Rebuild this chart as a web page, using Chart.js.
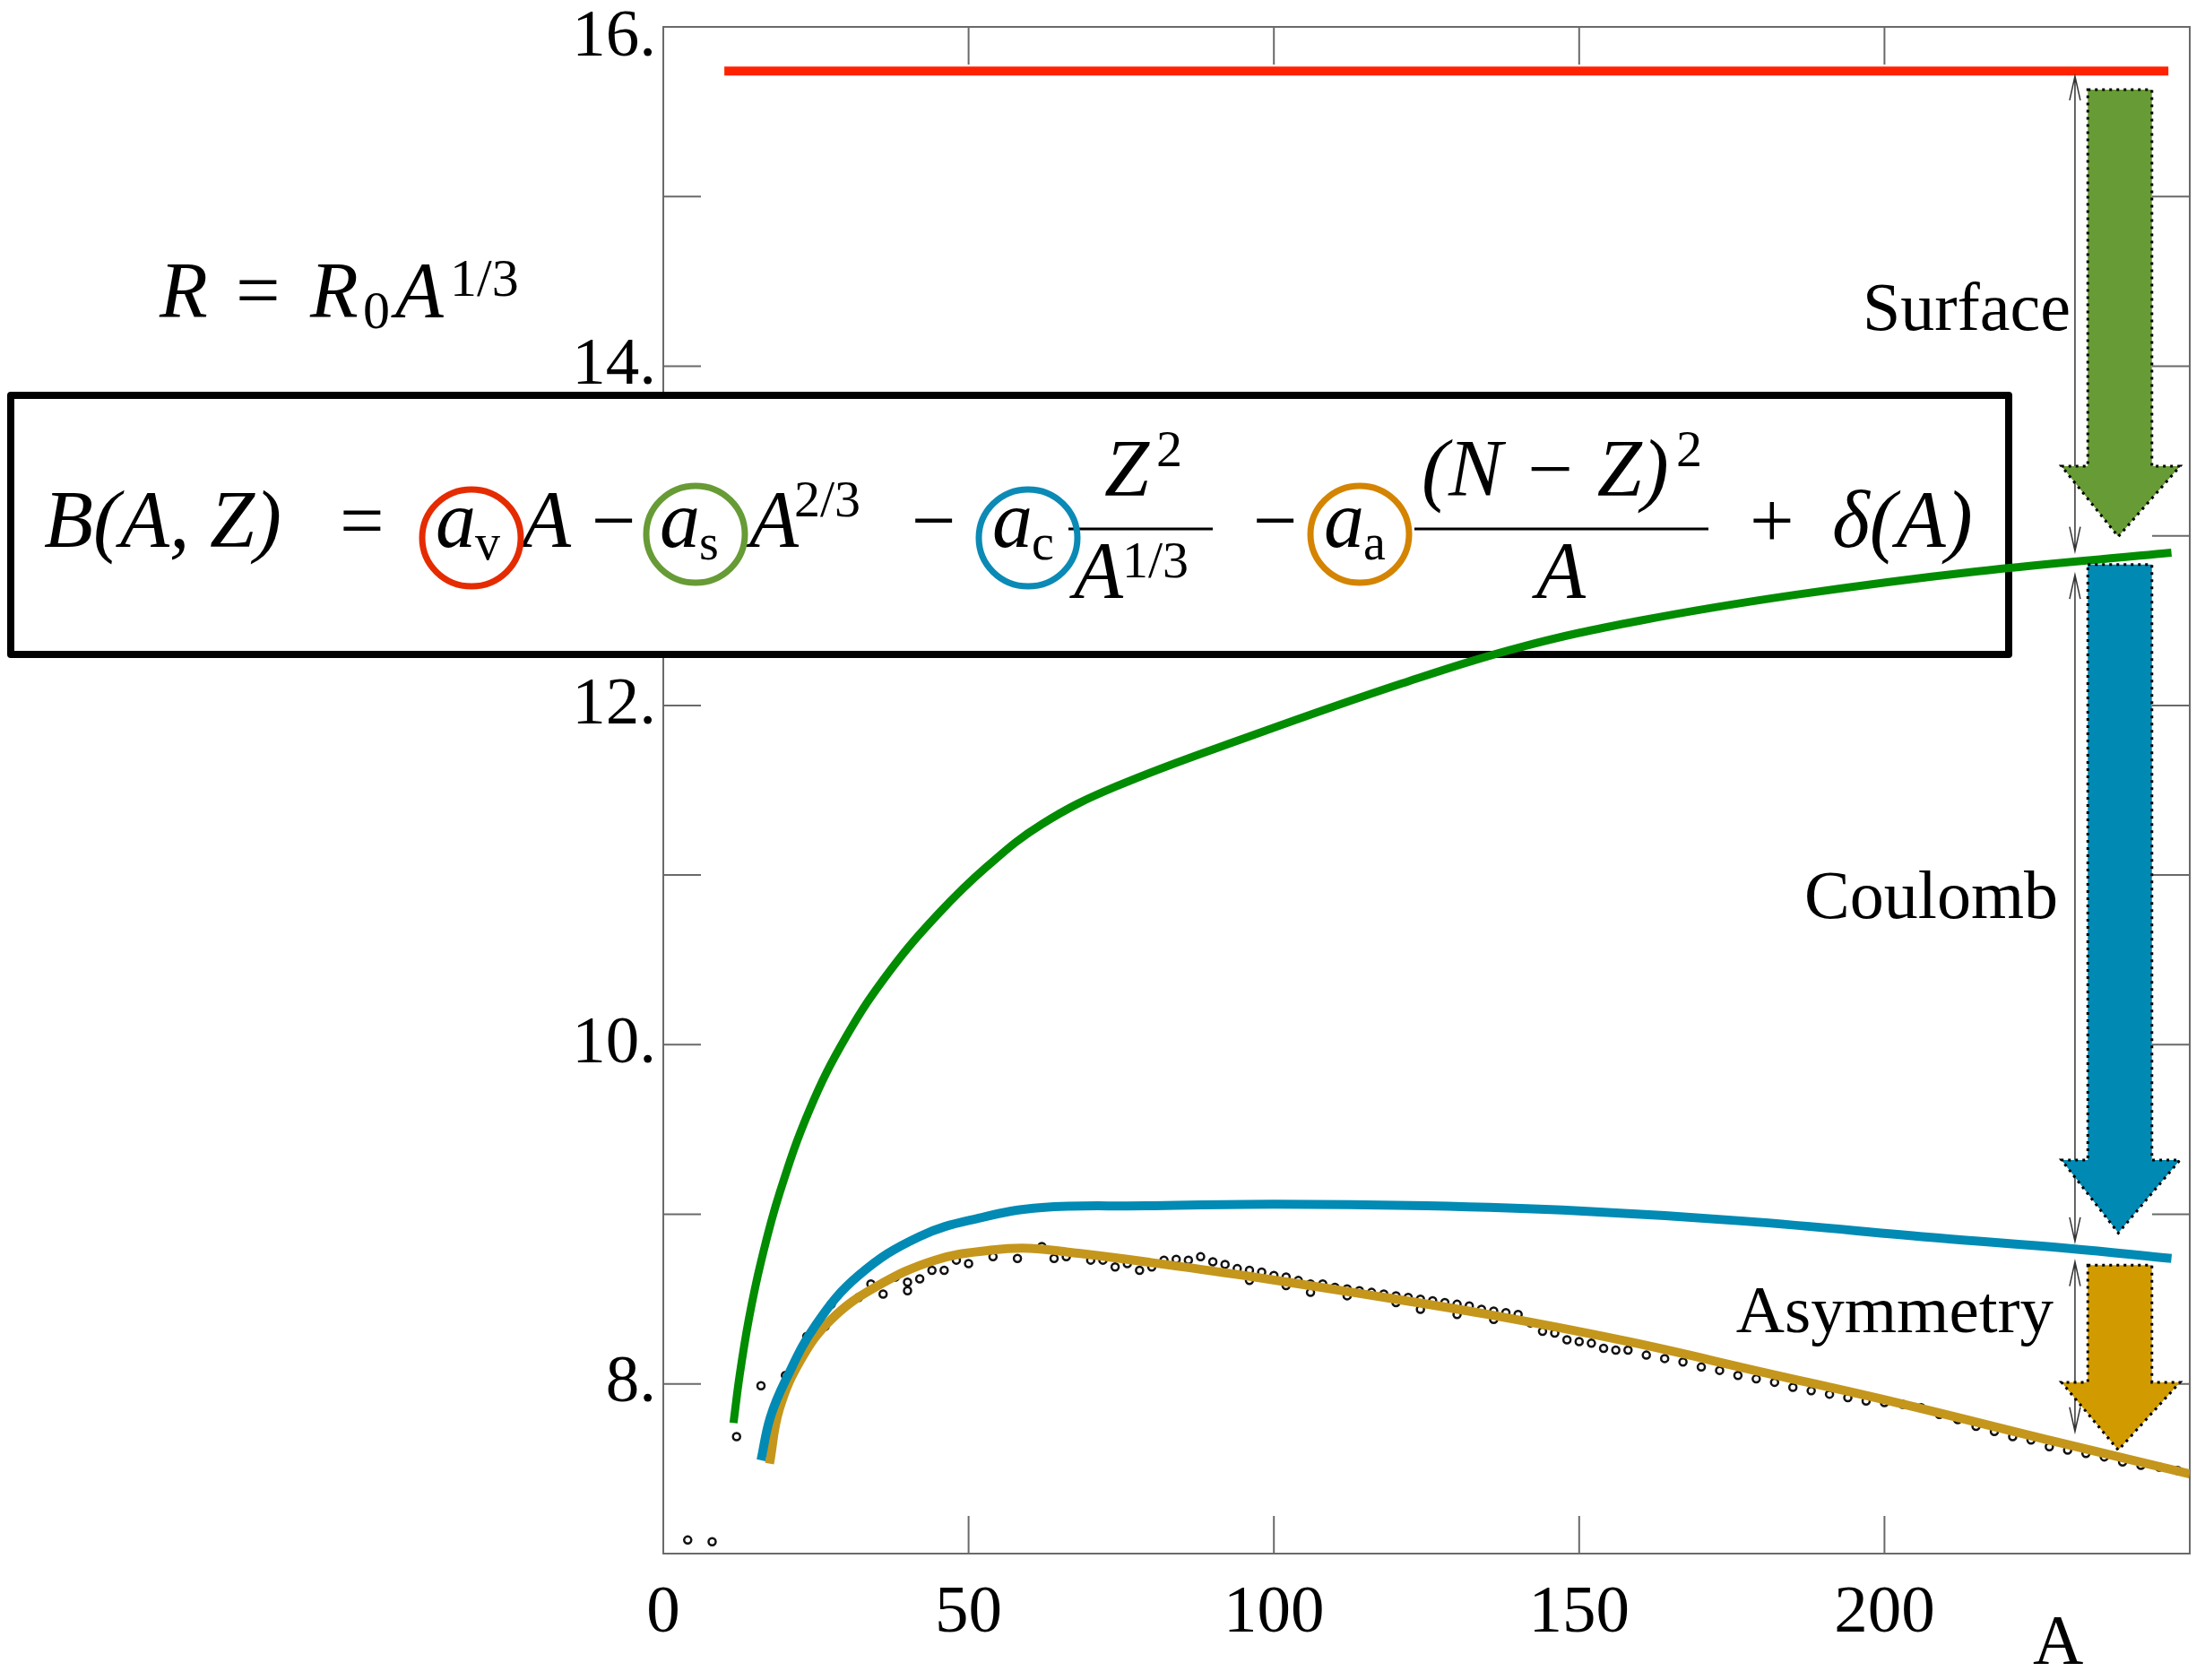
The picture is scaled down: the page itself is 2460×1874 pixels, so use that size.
<!DOCTYPE html>
<html>
<head>
<meta charset="utf-8">
<title>Binding energy per nucleon</title>
<script src="https://cdn.jsdelivr.net/npm/chart.js@4.4.1/dist/chart.umd.min.js"></script>
<style>
  html, body { margin: 0; padding: 0; background: #fff; }
  #wrap { width: 2460px; height: 1874px; }
</style>
</head>
<body>
<div id="wrap"><canvas id="chart" width="2460" height="1874"></canvas></div>
<script>
// values (A = mass number, B = binding energy per nucleon)
const volumeA = [10, 246.5];
const volumeB = [15.74, 15.74];

const surfaceA = [11.5, 12.5, 14, 16, 19, 24, 30, 37, 45, 53, 62, 74, 97, 121, 140, 160, 185, 215, 247];
const surfaceB = [7.77, 8.05, 8.38, 8.72, 9.12, 9.62, 10.05, 10.43, 10.77, 11.05, 11.3, 11.52, 11.83, 12.13, 12.34, 12.5, 12.65, 12.79, 12.9];

const coulombA = [16, 17.5, 20, 25, 32, 42, 52, 62, 79, 100, 125, 150, 177, 209, 230, 247];
const coulombB = [7.55, 7.8, 8.02, 8.35, 8.64, 8.87, 8.98, 9.04, 9.05, 9.06, 9.05, 9.02, 8.96, 8.86, 8.8, 8.74];

const asymA = [17.4, 19, 22.5, 27.5, 34.7, 44.5, 54, 60, 68, 79, 95, 112, 135, 158, 180, 202, 228, 250];
const asymB = [7.53, 7.85, 8.14, 8.38, 8.57, 8.73, 8.79, 8.8, 8.77, 8.72, 8.64, 8.545, 8.41, 8.25, 8.07, 7.89, 7.66, 7.47];

const measuredA = [4, 8, 12, 16, 20, 23.5, 26.5, 27.5, 32, 34, 36, 38, 40, 40, 42, 44, 46, 48, 50, 54,
  58, 62, 64, 66, 70, 72, 74, 76, 78, 80, 82, 84, 86, 88, 90, 92, 94, 96, 96, 98,
  100, 102, 102, 104, 106, 106, 108, 110, 112, 112, 114, 116, 118, 120, 120, 122, 124, 124, 126, 128,
  130, 130, 132, 134, 136, 136, 138, 140, 142, 144, 146, 148, 150, 152, 154, 156, 158, 161, 164, 167,
  170, 173, 176, 179, 182, 185, 188, 191, 194, 197, 200, 203, 206, 209, 212, 215, 218, 221, 224, 227,
  230, 233, 236, 239, 242, 245, 248];
const measuredB = [7.08, 7.07, 7.69, 7.99, 8.05, 8.28, 8.34, 8.47, 8.51, 8.59, 8.53, 8.63, 8.6, 8.55, 8.62, 8.67, 8.67, 8.73, 8.71, 8.75,
  8.74, 8.81, 8.74, 8.75, 8.73, 8.73, 8.69, 8.71, 8.67, 8.69, 8.73, 8.735, 8.73, 8.75, 8.72, 8.705, 8.68, 8.67, 8.61, 8.66,
  8.64, 8.63, 8.58, 8.61, 8.59, 8.54, 8.59, 8.57, 8.56, 8.52, 8.55, 8.54, 8.53, 8.52, 8.48, 8.51, 8.5, 8.44, 8.49, 8.48,
  8.47, 8.41, 8.46, 8.44, 8.43, 8.38, 8.42, 8.41, 8.36, 8.31, 8.3, 8.26, 8.25, 8.24, 8.21, 8.2, 8.2, 8.17, 8.15, 8.13,
  8.1, 8.08, 8.05, 8.03, 8.01, 7.98, 7.96, 7.94, 7.92, 7.9, 7.89, 7.88, 7.86, 7.82, 7.79, 7.75, 7.72, 7.69, 7.67, 7.63,
  7.61, 7.59, 7.57, 7.54, 7.52, 7.51, 7.49];

const xLabelValues = [0, 50, 100, 150, 200];
const yLabelValues = [8, 10, 12, 14, 16];

// the three arrows on the right, in axis units
const arrows = [
  { color: '#679b35', dimTop: 15.71, dimBottom: 12.91, top: 15.63, headBase: 13.41, tip: 12.995 },
  { color: '#0089b3', dimTop: 12.77, dimBottom: 8.84, top: 12.83, headBase: 9.32, tip: 8.89 },
  { color: '#d19b00', dimTop: 8.72, dimBottom: 7.72, top: 8.7, headBase: 8.01, tip: 7.61 }
];

const SERIF = '"Liberation Serif", "Times New Roman", serif';

function pts(xs, ys) {
  return xs.map((x, i) => ({ x: x, y: ys[i] }));
}

function curve(xs, ys, color, width) {
  return {
    data: pts(xs, ys),
    borderColor: color,
    borderWidth: width,
    pointRadius: 0,
    fill: false,
    tension: 0.4,
    borderCapStyle: 'butt',
    order: 1
  };
}

function txt(ctx, s, x, y, size, italic) {
  ctx.font = (italic ? 'italic ' : '') + size + 'px ' + SERIF;
  ctx.fillText(s, x, y);
}

// coefficient a_x inside a coloured ring
function coef(ctx, cx, cy, sub, color) {
  ctx.fillStyle = '#000';
  txt(ctx, 'a', cx - 40, 610, 90, true);
  txt(ctx, sub, cx + 4, 624, 56, false);
  ctx.beginPath();
  ctx.ellipse(cx, cy, 55, 54, 0, 0, Math.PI * 2);
  ctx.lineWidth = 7;
  ctx.strokeStyle = color;
  ctx.stroke();
}

function bar(ctx, x1, x2, y) {
  ctx.fillRect(x1, y - 1.5, x2 - x1, 3);
}

function noPad(s) {
  s.paddingLeft = 0; s.paddingRight = 0; s.paddingTop = 0; s.paddingBottom = 0;
}

const framePlugin = {
  id: 'frame',
  beforeDatasetsDraw(chart) {
    const { ctx, chartArea: a, scales: { x, y } } = chart;
    ctx.save();
    ctx.strokeStyle = '#6a6a6a';
    ctx.lineWidth = 2;
    ctx.strokeRect(a.left, a.top, a.right - a.left, a.bottom - a.top);
    ctx.beginPath();
    x.ticks.forEach(t => {
      if (t.value <= x.min || t.value >= x.max) return;
      const px = x.getPixelForValue(t.value);
      ctx.moveTo(px, a.bottom); ctx.lineTo(px, a.bottom - 42);
      ctx.moveTo(px, a.top); ctx.lineTo(px, a.top + 42);
    });
    y.ticks.forEach(t => {
      if (t.value <= y.min || t.value >= y.max) return;
      const py = y.getPixelForValue(t.value);
      ctx.moveTo(a.left, py); ctx.lineTo(a.left + 42, py);
      ctx.moveTo(a.right, py); ctx.lineTo(a.right - 42, py);
    });
    ctx.stroke();

    // the top label sits a little below its tick in the original
    ctx.fillStyle = '#000';
    ctx.textAlign = 'right';
    ctx.textBaseline = 'middle';
    txt(ctx, y.max + '.', a.left - 8, y.getPixelForValue(y.max) + 12, 75, false);

    // formula box sits on top of the frame but under the curves
    ctx.fillStyle = '#fff';
    ctx.fillRect(12, 441, 2229, 289);
    ctx.lineWidth = 8;
    ctx.strokeStyle = '#000';
    ctx.lineJoin = 'round';
    ctx.strokeRect(12, 441, 2229, 289);

    ctx.fillStyle = '#000';
    ctx.textAlign = 'left';
    ctx.textBaseline = 'alphabetic';
    txt(ctx, 'B(A, Z)', 49, 610, 90, true);
    txt(ctx, '=', 379, 610, 88, false);
    txt(ctx, 'A', 582, 610, 90, true);
    txt(ctx, '\u2212', 660, 610, 88, false);
    txt(ctx, 'A', 836, 610, 90, true);
    txt(ctx, '2/3', 886, 576, 58, false);
    txt(ctx, '\u2212', 1017, 610, 88, false);
    txt(ctx, 'Z', 1232, 553, 90, true);
    txt(ctx, '2', 1290, 520, 58, false);
    bar(ctx, 1192, 1353, 590);
    txt(ctx, 'A', 1198, 667, 90, true);
    txt(ctx, '1/3', 1252, 644, 58, false);
    txt(ctx, '\u2212', 1398, 610, 88, false);
    txt(ctx, '(N \u2212 Z)', 1586, 553, 90, true);
    txt(ctx, '2', 1870, 520, 58, false);
    bar(ctx, 1578, 1906, 590);
    txt(ctx, 'A', 1714, 667, 90, true);
    txt(ctx, '+', 1952, 610, 88, false);
    txt(ctx, '\u03b4(A)', 2044, 610, 90, true);

    coef(ctx, 526, 600, 'v', '#e52b00');
    coef(ctx, 776, 596, 's', '#679b35');
    coef(ctx, 1147, 600, 'c', '#0b8ab5');
    coef(ctx, 1517, 596, 'a', '#d48400');

    // radius formula
    ctx.fillStyle = '#000';
    txt(ctx, 'R', 178, 353, 88, true);
    txt(ctx, '=', 263, 353, 88, false);
    txt(ctx, 'R', 346, 353, 88, true);
    txt(ctx, '0', 405, 366, 60, false);
    txt(ctx, 'A', 441, 353, 88, true);
    txt(ctx, '1/3', 502, 330, 60, false);
    ctx.restore();
  },
  afterDatasetsDraw(chart) {
    const { ctx, scales: { x, y } } = chart;
    ctx.save();
    const dimX = x.getPixelForValue(231.2);
    const bl = x.getPixelForValue(233.3), br = x.getPixelForValue(243.8);
    const hl = x.getPixelForValue(229), hr = x.getPixelForValue(248.4);
    const cx = x.getPixelForValue(238.3);
    arrows.forEach(a => {
      // thin double-headed dimension line
      const t = y.getPixelForValue(a.dimTop), b = y.getPixelForValue(a.dimBottom);
      ctx.setLineDash([]);
      ctx.strokeStyle = '#333';
      ctx.lineWidth = 1.5;
      ctx.beginPath();
      ctx.moveTo(dimX, t); ctx.lineTo(dimX, b);
      ctx.moveTo(dimX - 6, t + 27); ctx.lineTo(dimX, t); ctx.lineTo(dimX + 6, t + 27);
      ctx.moveTo(dimX - 6, b - 27); ctx.lineTo(dimX, b); ctx.lineTo(dimX + 6, b - 27);
      ctx.stroke();

      // fat arrow with dotted outline
      const top = y.getPixelForValue(a.top), base = y.getPixelForValue(a.headBase), tip = y.getPixelForValue(a.tip);
      ctx.beginPath();
      ctx.moveTo(bl, top); ctx.lineTo(br, top); ctx.lineTo(br, base); ctx.lineTo(hr, base);
      ctx.lineTo(cx, tip); ctx.lineTo(hl, base); ctx.lineTo(bl, base); ctx.closePath();
      ctx.fillStyle = a.color;
      ctx.fill();
      ctx.setLineDash([3, 5]);
      ctx.lineWidth = 3;
      ctx.strokeStyle = '#000';
      ctx.stroke();
    });
    ctx.setLineDash([]);
    ctx.fillStyle = '#000';
    ctx.textAlign = 'right';
    ctx.textBaseline = 'alphabetic';
    txt(ctx, 'Surface', 2310, 368, 76, false);
    txt(ctx, 'Coulomb', 2296, 1024, 76, false);
    txt(ctx, 'Asymmetry', 2291, 1486, 75, false);
    ctx.textAlign = 'left';
    txt(ctx, 'A', 2268, 1855, 78, false);
    ctx.restore();
  }
};

const chart = new Chart(document.getElementById('chart'), {
  type: 'line',
  data: {
    datasets: [
      {
        data: pts(measuredA, measuredB),
        showLine: false,
        pointStyle: 'circle',
        pointRadius: 4,
        pointBorderWidth: 2.5,
        pointBorderColor: '#111',
        pointBackgroundColor: 'rgba(255,255,255,0)',
        order: 5
      },
      curve(volumeA, volumeB, '#ff2200', 10),
      curve(surfaceA, surfaceB, '#028c02', 9),
      curve(coulombA, coulombB, '#008ab4', 10),
      curve(asymA, asymB, '#c4961c', 10)
    ]
  },
  options: {
    responsive: false,
    animation: false,
    devicePixelRatio: 1,
    layout: { padding: { left: 0, top: 30, right: 17, bottom: 0 } },
    plugins: { legend: { display: false }, tooltip: { enabled: false } },
    scales: {
      x: {
        type: 'linear',
        min: 0,
        max: 250,
        afterFit: s => { s.height = 141; noPad(s); },
        grid: { display: false, drawTicks: false },
        border: { display: false },
        ticks: {
          stepSize: 50,
          padding: 22,
          maxRotation: 0,
          autoSkip: false,
          color: '#000',
          font: { family: SERIF, size: 75 },
          callback: v => xLabelValues.includes(v) ? String(v) : ''
        }
      },
      y: {
        type: 'linear',
        min: 7,
        max: 16,
        afterFit: s => { s.width = 740; noPad(s); },
        grid: { display: false, drawTicks: false },
        border: { display: false },
        ticks: {
          stepSize: 1,
          padding: 8,
          autoSkip: false,
          color: '#000',
          font: { family: SERIF, size: 75 },
          // 16 is drawn by the frame plugin, slightly lowered
          callback: v => (yLabelValues.includes(v) && v < 16) ? v + '.' : ''
        }
      }
    }
  },
  plugins: [framePlugin]
});
</script>
</body>
</html>
